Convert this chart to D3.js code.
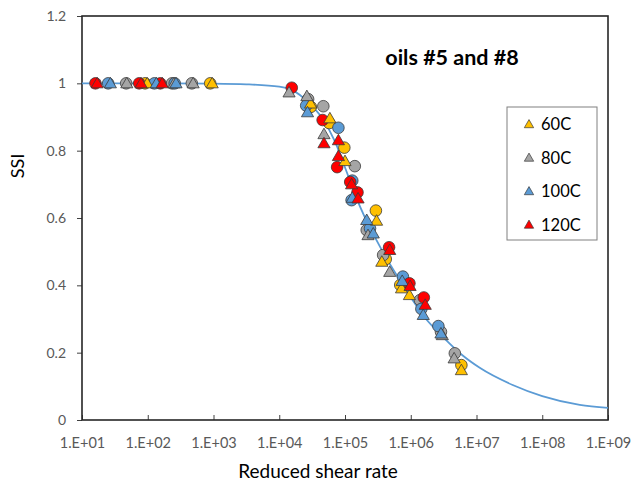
<!DOCTYPE html>
<html>
<head>
<meta charset="utf-8">
<script src="https://cdn.jsdelivr.net/npm/d3@7"></script>
<style>
  html, body { margin: 0; padding: 0; background: #fff; }
  svg { display: block; font-family: Lato, "Open Sans", sans-serif; }
</style>
</head>
<body>
<svg id="chart" width="631" height="486"></svg>
<script>
// Series labels and marker colours
const temps = ["60C", "80C", "100C", "120C"];
const colors = ["#FFC000", "#A5A5A5", "#5B9BD5", "#FF0000"];

// Oil #5 (triangles): [reduced shear rate, SSI]
const tri60 = [[98, 1], [955, 1], [3.0e4, 0.94], [5.89e4, 0.896], [1.0e5, 0.769], [3.02e5, 0.592], [3.63e5, 0.47], [7.24e5, 0.391], [9.55e5, 0.371], [5.89e6, 0.148]];
const tri80 = [[48, 1], [251, 1], [490, 1], [1.41e4, 0.973], [2.63e4, 0.962], [4.79e4, 0.849], [2.24e5, 0.549], [4.79e5, 0.44], [3.02e6, 0.252], [4.57e6, 0.183]];
const tri100 = [[27, 1], [135, 1], [269, 1], [2.69e4, 0.914], [1.29e5, 0.66], [2.14e5, 0.594], [2.69e5, 0.554], [7.41e5, 0.413], [1.55e6, 0.312], [2.88e6, 0.257]];
const tri120 = [[17, 1], [79, 1], [166, 1], [4.79e4, 0.822], [7.94e4, 0.831], [7.94e4, 0.784], [1.26e5, 0.70], [1.58e5, 0.658], [4.79e5, 0.505], [9.77e5, 0.398], [1.66e6, 0.342]];

// Oil #8 (circles): [reduced shear rate, SSI]
const circ60 = [[91, 1], [891, 1], [3.02e4, 0.93], [5.75e4, 0.882], [9.77e4, 0.809], [2.95e5, 0.622], [4.17e5, 0.478], [6.92e5, 0.401], [5.89e6, 0.163]];
const circ80 = [[47, 1], [234, 1], [468, 1], [2.75e4, 0.953], [4.68e4, 0.932], [1.41e5, 0.754], [2.14e5, 0.564], [3.80e5, 0.49], [1.38e6, 0.356], [2.88e6, 0.262], [4.68e6, 0.198]];
const circ100 = [[25, 1], [126, 1], [257, 1], [2.57e4, 0.934], [7.94e4, 0.868], [1.29e5, 0.711], [1.26e5, 0.653], [2.40e5, 0.569], [7.59e5, 0.426], [1.45e6, 0.33], [2.63e6, 0.279]];
const circ120 = [[16, 1], [74, 1], [155, 1], [1.55e4, 0.987], [4.57e4, 0.891], [7.59e4, 0.751], [1.20e5, 0.707], [1.55e5, 0.676], [4.68e5, 0.513], [9.55e5, 0.406], [1.58e6, 0.364]];

// Master curve: [reduced shear rate, SSI]
const curveRate = [1e1, 1e2, 1e3, 3.16e3, 1e4, 1.58e4, 2.75e4, 4.47e4, 7.08e4, 1e5, 1.70e5, 3.63e5, 7.94e5, 1.66e6, 3.16e6, 6.31e6, 1.12e7, 3.55e7, 1e8, 3.72e8, 1e9];
const curveSSI = [1.0, 1.0, 0.999, 0.997, 0.99, 0.98, 0.944, 0.897, 0.826, 0.75, 0.633, 0.505, 0.395, 0.303, 0.245, 0.19, 0.155, 0.104, 0.071, 0.045, 0.036];

// Axis ticks
const xTicks = [1e1, 1e2, 1e3, 1e4, 1e5, 1e6, 1e7, 1e8, 1e9];
const xTickLabels = ["1.E+01", "1.E+02", "1.E+03", "1.E+04", "1.E+05", "1.E+06", "1.E+07", "1.E+08", "1.E+09"];
const yTicks = [0, 0.2, 0.4, 0.6, 0.8, 1, 1.2];
const yTickLabels = ["0", "0.2", "0.4", "0.6", "0.8", "1", "1.2"];

const triSeries = [tri60, tri80, tri100, tri120];
const circSeries = [circ60, circ80, circ100, circ120];

const svg = d3.select("#chart");
const L = 82, R = 608, T = 16, B = 420;

const x = d3.scaleLog().domain([1e1, 1e9]).range([L, R]);
const y = d3.scaleLinear().domain([0, 1.2]).range([B, T]);

const tickColor = "#595959";

// x axis: ticks point up into the plot
const xAxis = d3.axisBottom(x).tickValues(xTicks)
  .tickFormat((d, i) => xTickLabels[i]).tickSizeInner(-5).tickSizeOuter(0).tickPadding(18);
const gx = svg.append("g").attr("transform", `translate(0,${B})`).call(xAxis);
gx.select(".domain").remove();
gx.selectAll(".tick line").attr("stroke", "#404040").attr("stroke-width", 1);
gx.selectAll(".tick text").attr("fill", tickColor).attr("font-size", 14.5)
  .attr("font-family", "Lato, sans-serif");

// y axis: ticks point left
const yAxis = d3.axisLeft(y).tickValues(yTicks)
  .tickFormat((d, i) => yTickLabels[i]).tickSizeInner(5).tickSizeOuter(0).tickPadding(11);
const gy = svg.append("g").attr("transform", `translate(${L},0)`).call(yAxis);
gy.select(".domain").remove();
gy.selectAll(".tick line").attr("stroke", "#404040").attr("stroke-width", 1);
gy.selectAll(".tick text").attr("fill", tickColor).attr("font-size", 14)
  .attr("font-family", "Lato, sans-serif");

// Plot frame
svg.append("rect").attr("x", L).attr("y", T).attr("width", R - L).attr("height", B - T)
  .attr("fill", "none").attr("stroke", "#262626").attr("stroke-width", 1.6);

// Master curve
const line = d3.line().x(d => x(d[0])).y(d => y(d[1])).curve(d3.curveMonotoneX);
svg.append("path").datum(curveRate.map((r, i) => [r, curveSSI[i]]))
  .attr("d", line).attr("fill", "none").attr("stroke", "#5B9BD5").attr("stroke-width", 1.8);

const markerStroke = "#3a3a3a";
const triPath = d3.symbol().type(d3.symbolTriangle).size(64);
const triSmall = d3.symbol().type(d3.symbolTriangle).size(38);

// Oil #8 circles
circSeries.forEach((s, k) => {
  svg.append("g").selectAll("circle").data(s).join("circle")
    .attr("cx", d => x(d[0])).attr("cy", d => y(d[1])).attr("r", 5.8)
    .attr("fill", colors[k]).attr("stroke", markerStroke).attr("stroke-width", 0.8);
});

// Oil #5 triangles
triSeries.forEach((s, k) => {
  svg.append("g").selectAll("path").data(s).join("path")
    .attr("d", triPath)
    .attr("transform", d => `translate(${x(d[0])},${y(d[1]) + 1})`)
    .attr("fill", colors[k]).attr("stroke", markerStroke).attr("stroke-width", 0.8);
});

// Title
svg.append("text").attr("x", 452).attr("y", 65).attr("text-anchor", "middle")
  .attr("font-size", 21.5).attr("font-weight", "bold").attr("fill", "#000")
  .text("oils #5 and #8");

// Legend
const lg = svg.append("g");
lg.append("rect").attr("x", 507).attr("y", 107).attr("width", 90).attr("height", 133)
  .attr("fill", "#fff").attr("stroke", "#808080").attr("stroke-width", 1);
temps.forEach((t, i) => {
  const cy = 124 + i * 33.5;
  lg.append("path").attr("d", triSmall).attr("transform", `translate(529,${cy + 1})`)
    .attr("fill", colors[i]).attr("stroke", markerStroke).attr("stroke-width", 0.7);
  lg.append("text").attr("x", 541).attr("y", cy + 6).attr("font-size", 16.5)
    .attr("fill", "#000").text(t);
});

// Axis titles
svg.append("text").attr("x", 318).attr("y", 478).attr("text-anchor", "middle")
  .attr("font-size", 19).attr("fill", "#000").text("Reduced shear rate");
svg.append("text").attr("transform", "translate(24,166) rotate(-90)").attr("text-anchor", "middle")
  .attr("font-size", 18).attr("fill", "#000").text("SSI");
</script>
</body>
</html>
